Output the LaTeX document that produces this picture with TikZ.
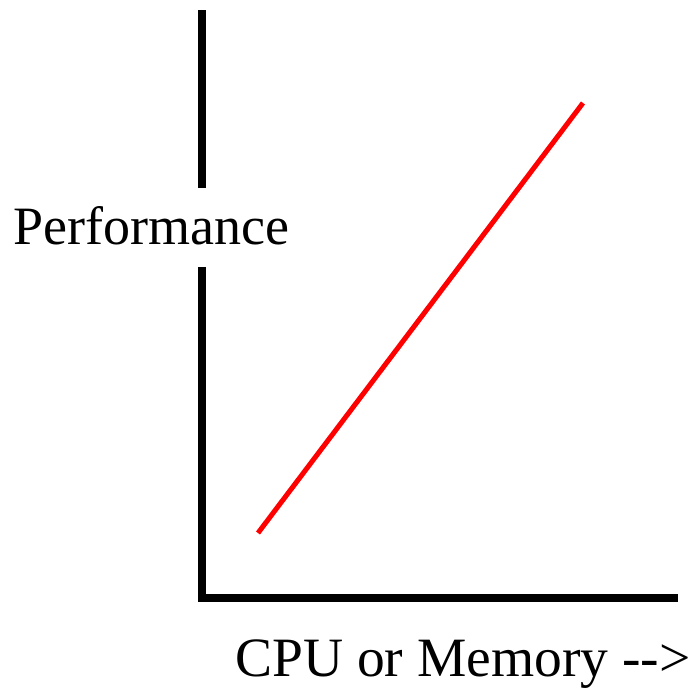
\documentclass[tikz,border=0pt]{standalone}
\usepackage{fontspec}
\setmainfont{Liberation Serif}
\begin{document}
\begin{tikzpicture}[x=1pt,y=1pt,
  axisline/.style={line width=8.5pt,black,line join=miter},
  curveline/.style={line width=5pt,red},
  lbl/.style={inner sep=0pt,anchor=base west,font=\fontsize{54}{60}\selectfont}]
\useasboundingbox[fill=white] (0,0) rectangle (694,688);
\coordinate (o) at (202,90);
\coordinate (ytop) at (202,678);
\coordinate (gaptop) at (202,500);
\coordinate (gapbot) at (202,421);
\coordinate (xend) at (678,90);
\coordinate (c1) at (258,155);
\coordinate (c2) at (583,585);
\draw[axisline] (gapbot) -- (o) -- (xend);
\draw[axisline] (gaptop) -- (ytop);
\draw[curveline] (c1) -- (c2);
\node[lbl] (ylab) at (13,443) {Performance};
\node[lbl,font=\fontsize{55.5}{60}\selectfont] (xlab) at (235,11) {CPU or Memory -\/-\/>};
\end{tikzpicture}
\end{document}
